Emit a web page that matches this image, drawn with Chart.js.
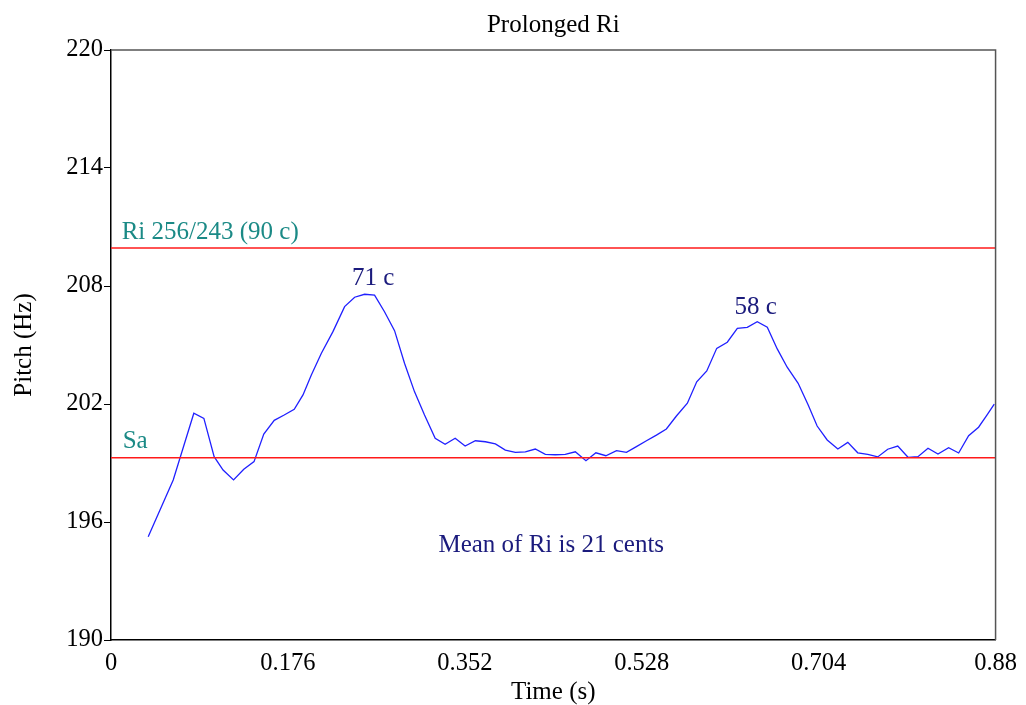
<!DOCTYPE html>
<html>
<head>
<meta charset="utf-8">
<script src="https://cdn.jsdelivr.net/npm/chart.js@4/dist/chart.umd.min.js"></script>
<style>
  html, body { margin: 0; padding: 0; background: #fff; }
  #wrap { width: 1026px; height: 705px; }
</style>
</head>
<body>
<div id="wrap"><canvas id="plot" width="1026" height="705"></canvas></div>
<script>
// pitch contour (time in s, pitch in Hz)
const times = [
  0.0370, 0.0619, 0.0824, 0.0924, 0.1026, 0.1115, 0.1219, 0.1321, 0.1423, 0.1520,
  0.1624, 0.1723, 0.1823, 0.1910, 0.1993, 0.2093, 0.2208, 0.2324, 0.2424, 0.2523,
  0.2622, 0.2721, 0.2821, 0.2920, 0.3019, 0.3119, 0.3225, 0.3324, 0.3424, 0.3523,
  0.3625, 0.3725, 0.3824, 0.3923, 0.4023, 0.4122, 0.4221, 0.4321, 0.4420, 0.4519,
  0.4619, 0.4725, 0.4824, 0.4923, 0.5029, 0.5128, 0.5227, 0.5327, 0.5426, 0.5525,
  0.5625, 0.5734, 0.5827, 0.5927, 0.6026, 0.6131, 0.6231, 0.6330, 0.6429, 0.6529,
  0.6628, 0.6727, 0.6836, 0.6936, 0.7025, 0.7125, 0.7231, 0.7330, 0.7429, 0.7529,
  0.7628, 0.7727, 0.7827, 0.7929, 0.8028, 0.8128, 0.8227, 0.8333, 0.8433, 0.8532,
  0.8631, 0.8714, 0.8787
];
const pitch = [
  195.25, 198.14, 201.53, 201.27, 199.32, 198.64, 198.14, 198.68, 199.07, 200.47,
  201.17, 201.44, 201.73, 202.46, 203.47, 204.58, 205.68, 206.95, 207.43, 207.58,
  207.54, 206.69, 205.73, 204.07, 202.63, 201.44, 200.26, 199.95, 200.26, 199.86,
  200.13, 200.08, 199.97, 199.66, 199.54, 199.57, 199.71, 199.44, 199.42, 199.44,
  199.57, 199.12, 199.52, 199.37, 199.63, 199.54, 199.83, 200.13, 200.42, 200.73,
  201.39, 202.04, 203.13, 203.68, 204.83, 205.14, 205.85, 205.90, 206.18, 205.90,
  204.80, 203.87, 203.05, 201.95, 200.88, 200.17, 199.71, 200.05, 199.52, 199.44,
  199.31, 199.70, 199.86, 199.29, 199.32, 199.75, 199.46, 199.78, 199.51, 200.39,
  200.82, 201.44, 201.99
];

// reference pitches
const saHz = 199.27;
const riHz = saHz * 256 / 243;

const xTicks = [0, 0.176, 0.352, 0.528, 0.704, 0.88];
const yTicks = [190, 196, 202, 208, 214, 220];

// text notes, placed in data coordinates
const notes = [
  { text: 'Ri 256/243 (90 c)', t: 0.0106, f: 210.37, align: 'left', color: '#1b8a86' },
  { text: 'Sa', t: 0.0116, f: 199.75, align: 'left', color: '#1b8a86' },
  { text: '71 c', t: 0.2607, f: 208.05, align: 'center', color: '#1b1b7d' },
  { text: '58 c', t: 0.6413, f: 206.58, align: 'center', color: '#1b1b7d' },
  { text: 'Mean of Ri is 21 cents', t: 0.438, f: 194.49, align: 'center', color: '#1b1b7d' }
];

const serif = '"Liberation Serif", "Times New Roman", serif';

const notesPlugin = {
  id: 'notes',
  afterDatasetsDraw(chart) {
    const { ctx, chartArea: a, scales: { x, y } } = chart;
    ctx.save();
    // top and right frame
    ctx.strokeStyle = '#555';
    ctx.lineWidth = 1.5;
    ctx.beginPath();
    ctx.moveTo(a.left, a.top);
    ctx.lineTo(a.right, a.top);
    ctx.lineTo(a.right, a.bottom);
    ctx.stroke();

    ctx.font = '25px ' + serif;
    ctx.textBaseline = 'alphabetic';
    notes.forEach(n => {
      ctx.fillStyle = n.color;
      ctx.textAlign = n.align;
      ctx.fillText(n.text, x.getPixelForValue(n.t), y.getPixelForValue(n.f));
    });
    ctx.restore();
  }
};

const config = {
  type: 'line',
  data: {
    datasets: [
      {
        label: 'Sa',
        data: [{ x: 0, y: saHz }, { x: 0.88, y: saHz }],
        borderColor: '#ff1a1a',
        borderWidth: 1.5,
        pointRadius: 0
      },
      {
        label: 'Ri',
        data: [{ x: 0, y: riHz }, { x: 0.88, y: riHz }],
        borderColor: '#ff1a1a',
        borderWidth: 1.5,
        pointRadius: 0
      },
      {
        label: 'Pitch',
        data: times.map((t, i) => ({ x: t, y: pitch[i] })),
        borderColor: '#2020ff',
        borderWidth: 1.3,
        pointRadius: 0,
        tension: 0
      }
    ]
  },
  options: {
    responsive: false,
    animation: false,
    layout: { padding: { left: 0, right: 29, top: 0, bottom: 0 } },
    scales: {
      x: {
        type: 'linear',
        min: 0,
        max: 0.88,
        afterBuildTicks: s => { s.ticks = xTicks.map(v => ({ value: v })); },
        afterFit: s => { s.height = 65; },
        grid: { display: false, drawTicks: false },
        border: { display: true, color: '#000', width: 1.5 },
        ticks: {
          autoSkip: false,
          maxRotation: 0,
          padding: 9,
          color: '#000',
          font: { family: serif, size: 24.5 },
          callback: v => String(v)
        },
        title: {
          display: true,
          text: 'Time (s)',
          color: '#000',
          font: { family: serif, size: 25, lineHeight: 1 },
          padding: { top: 0, bottom: 0 }
        }
      },
      y: {
        min: 190,
        max: 220,
        afterBuildTicks: s => { s.ticks = yTicks.map(v => ({ value: v })); },
        afterFit: s => { s.width = 111; },
        grid: { drawOnChartArea: false, drawTicks: true, tickLength: 7, color: '#000' },
        border: { display: true, color: '#000', width: 1.5 },
        ticks: {
          autoSkip: false,
          padding: 1,
          color: '#000',
          font: { family: serif, size: 24.5 },
          callback: v => String(v)
        },
        title: {
          display: true,
          text: 'Pitch (Hz)',
          color: '#000',
          font: { family: serif, size: 25, lineHeight: 1 },
          padding: { top: 11.5, bottom: 0 }
        }
      }
    },
    plugins: {
      legend: { display: false },
      tooltip: { enabled: false },
      title: {
        display: true,
        text: 'Prolonged Ri',
        fullSize: false,
        color: '#000',
        font: { family: serif, size: 25, weight: 'normal', lineHeight: 1 },
        padding: { top: 13, bottom: 12 }
      }
    }
  },
  plugins: [notesPlugin]
};

document.addEventListener('DOMContentLoaded', () => {
  const ctx = document.getElementById('plot').getContext('2d');
  new Chart(ctx, config);
});
</script>
</body>
</html>
